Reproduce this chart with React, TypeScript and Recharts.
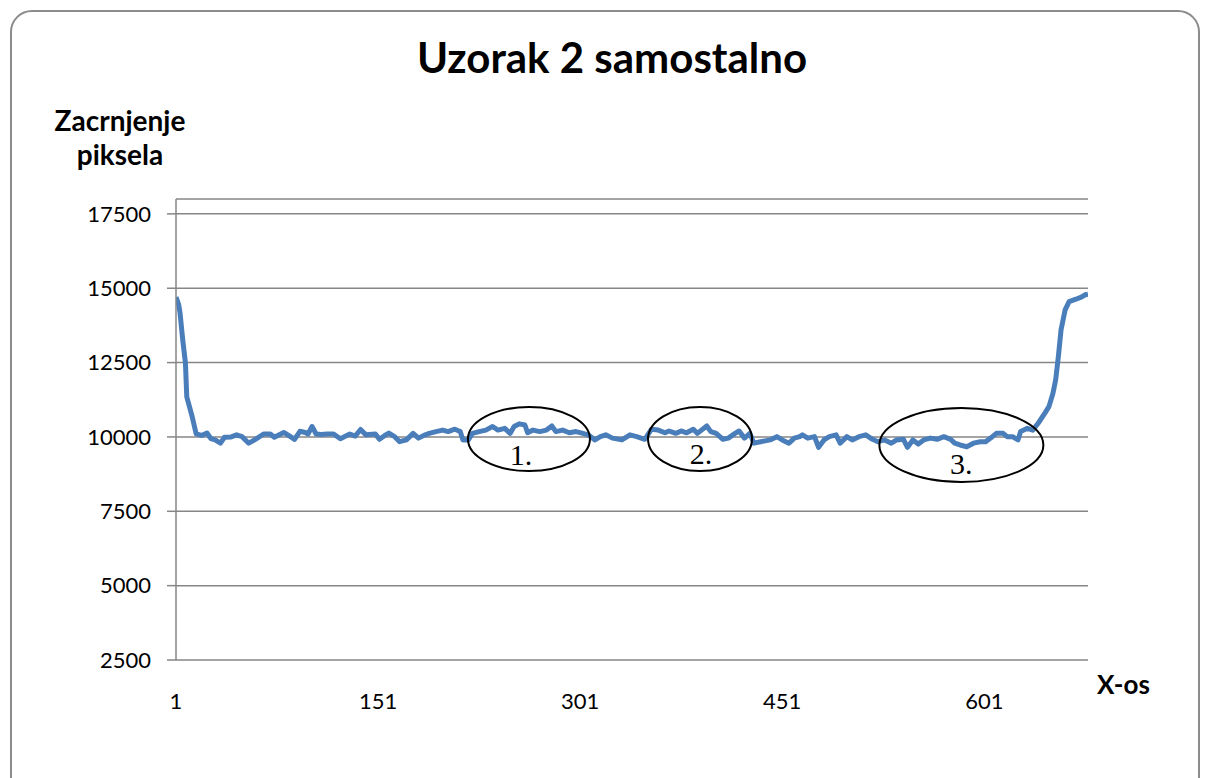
import React from 'react';
import { LineChart, Line, XAxis, YAxis, CartesianGrid, ReferenceDot } from 'recharts';

const xIndex = [
  1, 3, 4, 6, 8, 9, 13, 16, 20, 24, 27, 30, 34, 37, 42, 46, 50, 55, 60, 66, 71, 74, 81, 84, 89, 93, 97, 99,
  102, 105, 109, 113, 118, 123, 130, 134, 138, 142, 149, 152, 156, 159, 163, 167, 172, 177, 181, 186, 189,
  194, 199, 203, 208, 212, 214, 218, 221, 226, 231, 236, 240, 245, 249, 252, 256, 260, 262, 266, 271, 276,
  280, 283, 288, 293, 298, 303, 307, 312, 316, 320, 325, 332, 338, 343, 349, 354, 359, 364, 367, 372, 376,
  380, 385, 388, 395, 398, 402, 407, 411, 416, 419, 423, 427, 430, 435, 442, 447, 451, 456, 460, 464, 466,
  470, 475, 478, 482, 486, 491, 494, 499, 503, 508, 513, 518, 522, 527, 532, 536, 541, 544, 548, 552, 556,
  561, 566, 571, 576, 579, 583, 588, 593, 598, 602, 607, 610, 615, 618, 622, 626, 628, 633, 637, 641, 646,
  649, 652, 654, 656, 658, 661, 664, 669, 673, 676, 678,
];

const pixelDarkening = [
  14700, 14450, 14170, 13260, 12490, 11350, 10680, 10100, 10050, 10130, 9940, 9900, 9790, 9990, 10000, 10070,
  10010, 9790, 9920, 10100, 10100, 9990, 10150, 10070, 9920, 10190, 10150, 10100, 10350, 10100, 10080, 10100,
  10100, 9940, 10100, 10030, 10250, 10070, 10100, 9920, 10050, 10130, 10020, 9840, 9900, 10120, 9960, 10070,
  10120, 10180, 10230, 10180, 10260, 10180, 9900, 9900, 10120, 10180, 10230, 10350, 10230, 10290, 10120,
  10350, 10440, 10400, 10140, 10230, 10180, 10230, 10370, 10180, 10230, 10140, 10180, 10120, 10070, 9900,
  10010, 10070, 9960, 9900, 10070, 10010, 9920, 10260, 10230, 10140, 10200, 10120, 10200, 10140, 10260,
  10120, 10370, 10180, 10120, 9920, 9960, 10120, 10200, 9960, 10120, 9790, 9840, 9900, 10010, 9900, 9790,
  9960, 10010, 10070, 9960, 10010, 9650, 9900, 10010, 10070, 9790, 10010, 9900, 10010, 10070, 9920, 9840,
  9900, 9790, 9900, 9920, 9650, 9900, 9760, 9900, 9960, 9920, 10010, 9920, 9790, 9730, 9670, 9790, 9840,
  9840, 10010, 10120, 10120, 10010, 10010, 9900, 10180, 10290, 10230, 10460, 10800, 11020, 11470, 11920,
  12700, 13600, 14270, 14550, 14630, 14700, 14780, 14800,
];

const xTicks = [1, 151, 301, 451, 601];
const yTicks = [2500, 5000, 7500, 10000, 12500, 15000, 17500];

const markLabels = ['1.', '2.', '3.'];
const markX = [263, 390, 584];
const markY = [9930, 9930, 9730];

const markShapes = [
  { rx: 61, ry: 32, dx: -8, dy: 26 },
  { rx: 52, ry: 32, dx: 1, dy: 25 },
  { rx: 82, ry: 37, dx: 0, dy: 29 },
];

const data = xIndex.map((x, i) => ({ x, v: pixelDarkening[i] }));

const tickStyle = { fontFamily: 'Lato', fontSize: 22, fill: '#000' };

export default function App() {
  return (
    <div
      style={{
        position: 'absolute',
        left: 0,
        top: 0,
        width: 1206,
        height: 778,
        overflow: 'hidden',
        background: '#fff',
        fontFamily: 'Lato',
      }}
    >
      <div
        style={{
          position: 'absolute',
          left: 10,
          top: 10,
          width: 1190,
          height: 800,
          border: '2px solid #8c8c8c',
          borderRadius: 22,
          boxSizing: 'border-box',
        }}
      />
      <div
        style={{
          position: 'absolute',
          left: 312,
          top: 36,
          width: 600,
          textAlign: 'center',
          fontSize: 42,
          fontWeight: 700,
          lineHeight: 1,
          color: '#000',
        }}
      >
        Uzorak 2 samostalno
      </div>
      <div
        style={{
          position: 'absolute',
          left: 20,
          top: 103,
          width: 200,
          textAlign: 'center',
          fontSize: 28,
          fontWeight: 700,
          lineHeight: '34px',
          color: '#000',
        }}
      >
        Zacrnjenje
        <br />
        piksela
      </div>
      <div
        style={{
          position: 'absolute',
          left: 1097,
          top: 671,
          fontSize: 26,
          fontWeight: 700,
          lineHeight: 1,
          color: '#000',
        }}
      >
        X-os
      </div>
      <div style={{ position: 'absolute', left: 0, top: 0 }}>
        <LineChart
          width={1206}
          height={778}
          data={data}
          margin={{ top: 199, right: 118, bottom: 78, left: 56 }}
        >
          <CartesianGrid horizontal vertical={false} stroke="#868686" strokeWidth={1.5} />
          <XAxis
            type="number"
            dataKey="x"
            domain={[1, 678]}
            ticks={xTicks}
            allowDataOverflow
            height={40}
            axisLine={false}
            tickLine={false}
            tickSize={0}
            tickMargin={33}
            tick={tickStyle}
            interval={0}
          />
          <YAxis
            type="number"
            domain={[2500, 18000]}
            ticks={yTicks}
            allowDataOverflow
            width={120}
            axisLine={{ stroke: '#868686', strokeWidth: 1.5 }}
            tickLine={{ stroke: '#868686', strokeWidth: 1.5 }}
            tickSize={9}
            tickMargin={16}
            tick={tickStyle}
            interval={0}
          />
          <Line
            type="linear"
            dataKey="v"
            stroke="#4a7ebb"
            strokeWidth={5}
            strokeLinejoin="round"
            dot={false}
            isAnimationActive={false}
          />
          {markLabels.map((label, i) => (
            <ReferenceDot
              key={label}
              x={markX[i]}
              y={markY[i]}
              r={0}
              ifOverflow="visible"
              shape={(p: any) => (
                <g>
                  <ellipse
                    cx={p.cx}
                    cy={p.cy}
                    rx={markShapes[i].rx}
                    ry={markShapes[i].ry}
                    fill="none"
                    stroke="#000"
                    strokeWidth={2}
                  />
                  <text
                    x={p.cx + markShapes[i].dx}
                    y={p.cy + markShapes[i].dy}
                    textAnchor="middle"
                    fontFamily="Liberation Serif"
                    fontSize={30}
                    fill="#000"
                  >
                    {label}
                  </text>
                </g>
              )}
            />
          ))}
        </LineChart>
      </div>
    </div>
  );
}
